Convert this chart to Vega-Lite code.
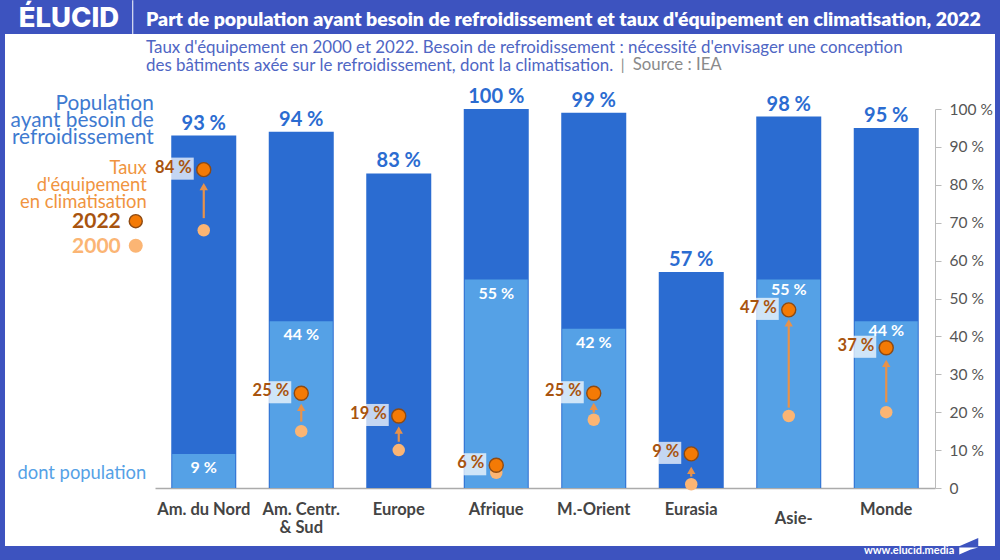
{
  "$schema": "https://vega.github.io/schema/vega-lite/v6.json",
  "width": 990,
  "height": 512,
  "autosize": "none",
  "padding": {"left": 5, "top": 34, "right": 5, "bottom": 14},
  "background": "#3D53BF",
  "view": {"fill": "#ffffff", "stroke": null},
  "config": {"font": "Lato"},
  "title": {
    "text": "Part de population ayant besoin de refroidissement et taux d'équipement en climatisation, 2022",
    "subtitle": [
      "Taux d'équipement en 2000 et 2022. Besoin de refroidissement : nécessité d'envisager une conception",
      "des bâtiments axée sur le refroidissement, dont la climatisation."
    ],
    "anchor": "start",
    "frame": "group",
    "dx": 141,
    "dy": 37,
    "offset": -38,
    "color": "#ffffff",
    "fontSize": 19.45,
    "fontWeight": 800,
    "subtitleColor": "#4F66C4",
    "subtitleFontSize": 16.9,
    "subtitleFontWeight": 400,
    "subtitleLineHeight": 18,
    "subtitlePadding": 9
  },
  "datasets": {
    "need": [
      {"region": "Am. du Nord", "v": 93, "label": "93 %"},
      {"region": "Am. Centr. & Sud", "v": 94, "label": "94 %"},
      {"region": "Europe", "v": 83, "label": "83 %"},
      {"region": "Afrique", "v": 100, "label": "100 %"},
      {"region": "M.-Orient", "v": 99, "label": "99 %"},
      {"region": "Eurasia", "v": 57, "label": "57 %"},
      {"region": "Asie-", "v": 98, "label": "98 %"},
      {"region": "Monde", "v": 95, "label": "95 %"}
    ],
    "pop": [
      {"region": "Am. du Nord", "v": 9, "label": "9 %"},
      {"region": "Am. Centr. & Sud", "v": 44, "label": "44 %"},
      {"region": "Afrique", "v": 55, "label": "55 %"},
      {"region": "M.-Orient", "v": 42, "label": "42 %"},
      {"region": "Asie-", "v": 55, "label": "55 %"},
      {"region": "Monde", "v": 44, "label": "44 %"}
    ],
    "rate2022": [
      {"region": "Am. du Nord", "v": 84, "label": "84 %"},
      {"region": "Am. Centr. & Sud", "v": 25, "label": "25 %"},
      {"region": "Europe", "v": 19, "label": "19 %"},
      {"region": "Afrique", "v": 6, "label": "6 %"},
      {"region": "M.-Orient", "v": 25, "label": "25 %"},
      {"region": "Eurasia", "v": 9, "label": "9 %"},
      {"region": "Asie-", "v": 47, "label": "47 %"},
      {"region": "Monde", "v": 37, "label": "37 %"}
    ],
    "rate2000": [
      {"region": "Am. du Nord", "v": 68},
      {"region": "Am. Centr. & Sud", "v": 15},
      {"region": "Europe", "v": 10},
      {"region": "Afrique", "v": 4},
      {"region": "M.-Orient", "v": 18},
      {"region": "Eurasia", "v": 1},
      {"region": "Asie-", "v": 19},
      {"region": "Monde", "v": 20}
    ],
    "shafts": [
      {"region": "Am. du Nord", "v": 71.2, "end": 79.5},
      {"region": "Am. Centr. & Sud", "v": 17.5, "end": 21.2},
      {"region": "Europe", "v": 12.2, "end": 15.2},
      {"region": "M.-Orient", "v": 19.9, "end": 21.5},
      {"region": "Eurasia", "v": 3, "end": 4.6},
      {"region": "Asie-", "v": 21.2, "end": 43.5},
      {"region": "Monde", "v": 22.6, "end": 32.8}
    ],
    "heads": [
      {"region": "Am. du Nord", "v": 80.5},
      {"region": "Am. Centr. & Sud", "v": 22.2},
      {"region": "Europe", "v": 16.2},
      {"region": "M.-Orient", "v": 22.5},
      {"region": "Eurasia", "v": 5.6},
      {"region": "Asie-", "v": 44.5},
      {"region": "Monde", "v": 33.8}
    ]
  },
  "encoding": {
    "x": {
      "field": "region",
      "type": "nominal",
      "sort": null,
      "scale": {
        "domain": ["Am. du Nord", "Am. Centr. & Sud", "Europe", "Afrique", "M.-Orient", "Eurasia", "Asie-", "Monde"],
        "range": [150, 930],
        "paddingInner": 0.3333,
        "paddingOuter": 0.1667
      },
      "axis": {
        "title": null,
        "orient": "bottom",
        "offset": -58,
        "labelAngle": 0,
        "ticks": false,
        "domainColor": "#ABABAB",
        "domainWidth": 1.5,
        "labelColor": "#444444",
        "labelFontSize": 16.5,
        "labelFontWeight": 700,
        "labelPadding": 13,
        "labelLineHeight": 18,
        "labelLimit": 200,
        "labelExpr": "datum.value == 'Am. Centr. & Sud' ? ['Am. Centr.', '& Sud'] : datum.value == 'Asie-' ? '' : datum.value"
      }
    },
    "y": {
      "field": "v",
      "type": "quantitative",
      "scale": {"domain": [0, 100], "range": [454, 75], "nice": false, "zero": false},
      "axis": {
        "title": null,
        "orient": "right",
        "offset": -60,
        "values": [0, 10, 20, 30, 40, 50, 60, 70, 80, 90, 100],
        "grid": false,
        "domainColor": "#BBBBBB",
        "tickColor": "#BBBBBB",
        "tickSize": 6,
        "labelColor": "#555555",
        "labelFontSize": 15.5,
        "labelPadding": 8,
        "labelExpr": "datum.value == 0 ? '0' : datum.value + ' %'"
      }
    }
  },
  "layer": [
    {"data": {"name": "need"}, "mark": {"type": "bar", "color": "#2B6CD1"}},
    {"data": {"name": "pop"}, "mark": {"type": "bar", "color": "#55A1E6", "size": 63}},
    {
      "data": {"name": "need"},
      "mark": {"type": "text", "color": "#2B6CD1", "fontSize": 20, "fontWeight": 700, "baseline": "alphabetic", "dy": -6},
      "encoding": {"text": {"field": "label"}}
    },
    {
      "data": {"name": "pop"},
      "transform": [{"filter": {"field": "region", "oneOf": ["Am. du Nord", "Am. Centr. & Sud", "Afrique", "M.-Orient"]}}],
      "mark": {"type": "text", "color": "#ffffff", "fontSize": 16, "fontWeight": 700, "dy": 14},
      "encoding": {"text": {"field": "label"}}
    },
    {
      "data": {"name": "pop"},
      "transform": [{"filter": {"field": "region", "oneOf": ["Asie-", "Monde"]}}],
      "mark": {"type": "text", "color": "#ffffff", "fontSize": 16, "fontWeight": 700, "dy": 10},
      "encoding": {"text": {"field": "label"}}
    },
    {
      "data": {"name": "shafts"},
      "mark": {"type": "rule", "color": "#E8924A", "strokeWidth": 2.2},
      "encoding": {"y2": {"field": "end"}}
    },
    {
      "data": {"name": "heads"},
      "mark": {"type": "point", "shape": "triangle-up", "filled": true, "color": "#E8924A", "opacity": 1, "size": 70, "yOffset": 3.6}
    },
    {
      "data": {"name": "rate2000"},
      "mark": {"type": "point", "shape": "circle", "filled": true, "color": "#FBB574", "opacity": 1, "size": 156}
    },
    {
      "data": {"name": "rate2022"},
      "mark": {"type": "point", "shape": "M-1,-0.96L1,-0.96L1,0.96L-1,0.96Z", "filled": true, "color": "#ffffff", "opacity": 0.72, "size": 529, "xOffset": -21.5, "yOffset": -1}
    },
    {
      "data": {"name": "rate2022"},
      "mark": {"type": "point", "shape": "circle", "filled": true, "fill": "#F47A05", "stroke": "#8E4A12", "strokeWidth": 1.4, "opacity": 1, "size": 196}
    },
    {
      "data": {"name": "rate2022"},
      "mark": {"type": "text", "color": "#A8540F", "fontSize": 16.5, "fontWeight": 700, "align": "right", "dx": -12, "dy": -2},
      "encoding": {"text": {"field": "label"}}
    },
    {
      "data": {"values": [{"region": "Asie-", "v": 0, "label": "Asie-"}]},
      "mark": {"type": "text", "color": "#444444", "fontSize": 16.5, "fontWeight": 700, "baseline": "alphabetic", "dx": 5, "dy": 36},
      "encoding": {"text": {"field": "label"}}
    },
    {
      "data": {"values": [{"region": "Am. du Nord", "v": 99.7, "label": "Population\nayant besoin de\nrefroidissement"}]},
      "mark": {"type": "text", "color": "#3E7AD0", "fontSize": 20.8, "align": "right", "baseline": "alphabetic", "lineBreak": "\n", "lineHeight": 17, "dx": -50},
      "encoding": {"text": {"field": "label"}}
    },
    {
      "data": {"values": [{"region": "Am. du Nord", "v": 82.8, "label": "Taux\nd'équipement\nen climatisation"}]},
      "mark": {"type": "text", "color": "#F09440", "fontSize": 18.4, "align": "right", "baseline": "alphabetic", "lineBreak": "\n", "lineHeight": 16.7, "dx": -57},
      "encoding": {"text": {"field": "label"}}
    },
    {
      "data": {"values": [{"region": "Am. du Nord", "v": 68.5, "label": "2022"}]},
      "mark": {"type": "text", "color": "#A8540F", "fontSize": 21, "fontWeight": 700, "align": "right", "baseline": "alphabetic", "dx": -83},
      "encoding": {"text": {"field": "label"}}
    },
    {
      "data": {"values": [{"region": "Am. du Nord", "v": 62, "label": "2000"}]},
      "mark": {"type": "text", "color": "#FBB574", "fontSize": 21, "fontWeight": 700, "align": "right", "baseline": "alphabetic", "dx": -83},
      "encoding": {"text": {"field": "label"}}
    },
    {
      "data": {"values": [{"region": "Am. du Nord", "v": 70.4}]},
      "mark": {"type": "point", "shape": "circle", "filled": true, "fill": "#F47A05", "stroke": "#8E4A12", "strokeWidth": 1.4, "opacity": 1, "size": 170, "xOffset": -68}
    },
    {
      "data": {"values": [{"region": "Am. du Nord", "v": 63.9}]},
      "mark": {"type": "point", "shape": "circle", "filled": true, "color": "#FBB574", "opacity": 1, "size": 196, "xOffset": -68}
    },
    {
      "data": {"values": [{"region": "Am. du Nord", "v": 2.3, "label": "dont population"}]},
      "mark": {"type": "text", "color": "#55A1E6", "fontSize": 18.4, "align": "right", "baseline": "alphabetic", "dx": -57.5},
      "encoding": {"text": {"field": "label"}}
    },
    {
      "data": {"values": [{"region": "M.-Orient", "v": 110.3, "label": "|"}]},
      "mark": {"type": "text", "color": "#8A8A8A", "fontSize": 15, "align": "left", "baseline": "alphabetic", "dx": 27},
      "encoding": {"text": {"field": "label"}}
    },
    {
      "data": {"values": [{"region": "M.-Orient", "v": 110.3, "label": "Source : IEA"}]},
      "mark": {"type": "text", "color": "#8A8A8A", "fontSize": 16.8, "align": "left", "baseline": "alphabetic", "dx": 39},
      "encoding": {"text": {"field": "label"}}
    },
    {
      "data": {"values": [{"region": "Am. du Nord", "v": 121.6, "label": "ÉLUCID"}]},
      "mark": {"type": "text", "font": "Inter", "color": "#ffffff", "fontSize": 27.5, "fontWeight": 800, "align": "left", "baseline": "alphabetic", "dx": -185},
      "encoding": {"text": {"field": "label"}}
    },
    {
      "data": {"values": [{"region": "Am. du Nord", "v": 128.7, "end": 119.8}]},
      "mark": {"type": "rule", "color": "#ffffff", "strokeWidth": 1, "xOffset": -71},
      "encoding": {"y2": {"field": "end"}}
    },
    {
      "data": {"values": [{"region": "Monde", "v": -17.4, "label": "www.elucid.media"}]},
      "mark": {"type": "text", "color": "#ffffff", "fontSize": 11, "fontWeight": 700, "align": "right", "baseline": "alphabetic", "dx": 68},
      "encoding": {"text": {"field": "label"}}
    },
    {
      "data": {"values": [{"region": "Monde", "v": -15.3}]},
      "mark": {"type": "point", "shape": "M-0.9,0L0.95,-0.8L0.95,0Z", "filled": true, "color": "#3D53BF", "opacity": 1, "size": 400, "xOffset": 82.5}
    },
    {
      "data": {"values": [{"region": "Monde", "v": -15.3}]},
      "mark": {"type": "point", "shape": "M-0.95,0.15L0.95,0.15L0.2,0.35L-0.95,0.85Z", "filled": true, "color": "#ffffff", "opacity": 1, "size": 400, "xOffset": 82.5}
    }
  ]
}
